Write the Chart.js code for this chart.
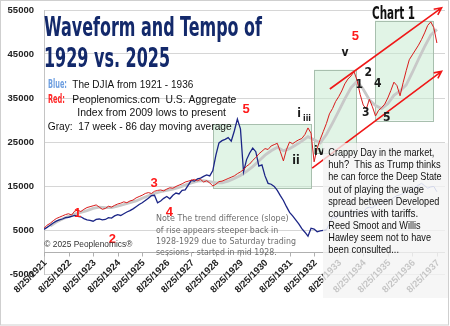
<!DOCTYPE html>
<html><head><meta charset="utf-8">
<script src="https://cdn.jsdelivr.net/npm/chart.js@4.4.1/dist/chart.umd.min.js"></script>
<style>html,body{margin:0;padding:0;background:#fff;}#wrap{width:450px;height:326px;position:relative;}</style>
</head><body><div id="wrap"><canvas id="c" width="450" height="326"></canvas></div>
<script>
// ---- data (years after 8/25/1921 on x; index level on y) ----
const tickYears = [0,1,2,3,4,5,6,7,8,9,10,11,12,13,14,15,16];
const tickLabels = ['8/25/1921','8/25/1922','8/25/1923','8/25/1924','8/25/1925','8/25/1926','8/25/1927','8/25/1928','8/25/1929','8/25/1930','8/25/1931','8/25/1932','8/25/1933','8/25/1934','8/25/1935','8/25/1936','8/25/1937'];
const sampleStep = 0.125;
const redStart = 0;
const redValues = [5400,6100,6500,7100,7600,7900,8200,8500,8700,8400,9300,9500,9200,9700,10100,10300,
10500,10700,10200,9700,9900,10400,10200,10600,10900,11100,11400,11200,11600,11800,12300,12600,
12900,13300,13500,13300,13800,14000,14100,13900,14300,14600,14500,14900,15200,15500,15900,16100,
16300,16500,16200,16500,15900,16200,15700,15000,15400,16000,16100,16400,16700,17000,17300,17800,
18200,18700,19500,20000,20800,21500,22300,22900,23500,23300,24100,24400,24700,22800,20700,23300,
25000,24600,25100,25500,25800,26700,28200,27000,20500,23600,25600,27400,29200,31400,32600,34200,
35300,36600,38200,39300,40000,41000,39000,35800,33400,32500,34700,33000,30900,32200,32800,33600,
35000,36700,38600,37800,35500,38500,41200,43700,44800,45900,47000,48300,49800,51500,52300,51000,47500];
const grayStart = 0.25, grayStep = 0.25;
const grayValues = [5900,6800,7500,8100,8600,9000,9400,9900,10200,10100,10100,10400,10800,11200,11600,12200,
12800,13300,13700,14000,14300,14700,15200,15700,16100,16200,16000,15700,15700,16100,16700,17400,
18300,19400,20700,22000,23000,23800,23000,23500,24300,25200,26200,25500,24800,26700,29300,32000,
34800,37300,38800,37000,34600,33300,32600,33700,35600,36600,38000,40800,43800,46700,49300,50600];
const blueStart = 0;
const blueValues = [5150,5600,6100,6600,7000,7300,7500,7800,7900,8100,8300,8100,8000,7600,7300,7200,
7000,7400,7500,7300,7400,7800,7700,8200,8500,8300,8700,9100,9400,9800,10300,10800,
11200,11700,12200,12800,12900,11200,11600,12200,12600,12100,12900,13400,13200,14000,14100,15200,
16300,16100,16600,16800,17200,17500,17300,18500,22000,24800,25300,25600,26000,25200,27500,30200,
28000,18200,21000,22500,23600,22800,19500,19800,17300,15600,15400,14900,14000,12800,11700,10300,
9000,8200,7300,6400,5300,4500,3600,5400,5200,4600,4800,4900,5000];
const blueFadedStart = 11.5;
const blueFadedValues = [5000,6500,8000,7600,8400,8100,8700,8900,8600,8900,9200,9400,9100,9900,10200,10000,
10700,10900,11100,11500,11300,11900,12400,12800,13000,13300,13700,14000,14100,14700,15200,15600,
15100,14500,14800,14900,13700];
// shaded boxes: [fromYear, toYear, low, high]
const boxes = [[6.89,10.90,14500,29080],[11.00,12.73,22500,41450],[13.48,15.85,29900,52600]];
// channel arrows: [fromYear, fromValue, toYear, toValue]
const channels = [[11.64,37050,16.19,55500],[10.92,19050,16.19,41060]];

function pts(start, step, vals){ return vals.map((v,i)=>({x:start+i*step, y:v})); }

const NARROW = '"Liberation Sans Narrow","DejaVu Sans Condensed","Liberation Sans",sans-serif';
const SANS = '"Liberation Sans",Arial,sans-serif';

function txt(ctx, s, x, y, font, color, w, align, base){
  ctx.save(); ctx.font = font; ctx.fillStyle = color;
  ctx.textAlign = align || 'left'; ctx.textBaseline = base || 'alphabetic';
  const m = ctx.measureText(s).width; const sx = w ? w/m : 1;
  ctx.translate(x, y); ctx.scale(sx, 1); ctx.fillText(s, 0, 0); ctx.restore();
}

const deco = {
  id:'deco',
  beforeDraw(chart){
    const ctx = chart.ctx; ctx.save(); ctx.fillStyle='#fff'; ctx.fillRect(0,0,chart.width,chart.height); ctx.restore();
  },
  beforeDatasetsDraw(chart){
    const ctx = chart.ctx, xs = chart.scales.x, ys = chart.scales.y, ca = chart.chartArea;
    ctx.save();
    boxes.forEach(b=>{
      const x1=xs.getPixelForValue(b[0]), x2=xs.getPixelForValue(b[1]);
      const y1=ys.getPixelForValue(b[3]), y2=ys.getPixelForValue(b[2]);
      ctx.fillStyle='rgba(200,235,210,0.55)'; ctx.fillRect(x1,y1,x2-x1,y2-y1);
      ctx.strokeStyle='#a8bfae'; ctx.lineWidth=1; ctx.strokeRect(Math.round(x1)+0.5,Math.round(y1)+0.5,Math.round(x2-x1),Math.round(y2-y1));
    });
    // zero axis with tick marks
    const y0 = Math.round(ys.getPixelForValue(0))+0.5;
    ctx.strokeStyle='#b0b0b0'; ctx.lineWidth=1;
    ctx.beginPath(); ctx.moveTo(ca.left,y0); ctx.lineTo(ca.right,y0);
    tickYears.forEach(t=>{const x=Math.round(xs.getPixelForValue(t))+0.5; ctx.moveTo(x,y0); ctx.lineTo(x,y0+4);});
    ctx.stroke();
    // category labels hang below the zero axis
    ctx.font='bold 9.5px '+SANS; ctx.fillStyle='#222'; ctx.textAlign='right'; ctx.textBaseline='middle';
    tickYears.forEach((t,i)=>{
      const x=xs.getPixelForValue(t);
      ctx.save(); ctx.translate(x+1.5, y0+9); ctx.rotate(-Math.PI/4); ctx.fillText(tickLabels[i],0,0); ctx.restore();
    });
    ctx.restore();
  },
  afterDatasetsDraw(chart){
    const ctx = chart.ctx, xs = chart.scales.x, ys = chart.scales.y;
    ctx.save();
    ctx.strokeStyle='#f01818'; ctx.lineWidth=1.6;
    channels.forEach(c=>{
      const x1=xs.getPixelForValue(c[0]), y1=ys.getPixelForValue(c[1]);
      const x2=xs.getPixelForValue(c[2]), y2=ys.getPixelForValue(c[3]);
      ctx.beginPath(); ctx.moveTo(x1,y1); ctx.lineTo(x2,y2);
      const a=Math.atan2(y2-y1,x2-x1), L=8;
      ctx.moveTo(x2-L*Math.cos(a-0.45), y2-L*Math.sin(a-0.45)); ctx.lineTo(x2,y2);
      ctx.lineTo(x2-L*Math.cos(a+0.45), y2-L*Math.sin(a+0.45));
      ctx.stroke();
    });
    ctx.restore();
    // titles and legend text
    txt(ctx,'Waveform and Tempo of',44,36,'bold 26px '+NARROW,'#13296b',218);
    txt(ctx,'1929 vs. 2025',44,67,'bold 26px '+NARROW,'#13296b',126);
    txt(ctx,'Chart 1',372,19,'bold 18px '+NARROW,'#111',43);
    txt(ctx,'Blue:',48,88,'bold 13px '+NARROW,'#6d9ee0',19);
    txt(ctx,'The DJIA from 1921 - 1936',72.3,88,'11.5px '+SANS,'#111',121);
    txt(ctx,'Red:',48,102.5,'bold 13px '+NARROW,'#ff2b2b',17);
    txt(ctx,'Peoplenomics.com  U.S. Aggregate',72.3,102.5,'11.5px '+SANS,'#111',164);
    txt(ctx,'Index from 2009 lows to present',77.3,116,'11.5px '+SANS,'#111',148.7);
    txt(ctx,'Gray:  17 week - 86 day moving average',47.7,130,'11.5px '+SANS,'#111',184);
    // red wave labels
    [['5',246,109.3],['5',355.3,36],['3',154,183.3],['1',77.7,213.3],['2',112.3,239.3],['4',169.3,212]]
      .forEach(l=>txt(ctx,l[0],l[1],l[2],'bold 13px '+SANS,'#ff1a1a',null,'center','middle'));
    // black wave labels
    [['v',345,53.3],['2',368.3,72.7],['4',377.7,84.3],['1',359.3,85],['3',365.7,112.7],['5',386.7,118.3],
     ['i',299,114.3],['ii',296,160.7],['iv',319.3,151.7]]
      .forEach(l=>txt(ctx,l[0],l[1],l[2],'bold 12px '+NARROW,'#1a1a1a',null,'center','middle'));
    txt(ctx,'iii',307,118.3,'bold 8.5px '+NARROW,'#1a1a1a',null,'center','middle');
    txt(ctx,'\u00A9 2025 Peoplenomics\u00AE',44.3,246.5,'9.5px '+SANS,'#333',88);
    const note=[['Note The trend difference (slope)',221,132.7],['of rise appears steeper back in',232.5,122.3],
      ['1928-1929 due to Saturday trading',243.5,140],['sessions - started in mid 1928.',254.5,120.7]];
    note.forEach(n=>txt(ctx,n[0],156,n[1],'8px "DejaVu Sans",sans-serif','#6e6e6e',n[2]));
  },
  afterDraw(chart){
    const ctx = chart.ctx;
    ctx.save();
    ctx.fillStyle='rgba(243,243,243,0.78)'; ctx.fillRect(323,143,126,155);
    ctx.restore();
    const lines=[['Crappy Day in the market,',106],['huh?  This as Trump thinks',112.3],['he can force the Deep State',113.3],
      ['out of playing the wage',95.7],['spread between Developed',111],['countries with tariffs.',90],
      ['Reed Smoot and Willis',92.3],['Hawley seem not to have',102.7],['been consulted...',70.7]];
    lines.forEach((l,i)=>txt(ctx,l[0],328.3,156.3+i*12.08,'10.5px '+SANS,'#111',l[1]));
    ctx.save(); ctx.strokeStyle='#cfcfcf'; ctx.lineWidth=1; ctx.strokeRect(0.5,0.5,448,324.5); ctx.restore();
  }
};

new Chart(document.getElementById('c'), {
  type:'line',
  data:{ datasets:[
    {data:pts(redStart,sampleStep,redValues), borderColor:'#d91c1c', borderWidth:1, order:1},
    {data:pts(blueStart,sampleStep,blueValues), borderColor:'#1b2586', borderWidth:1.3, order:2},
    {data:pts(grayStart,grayStep,grayValues), borderColor:'#c8c8c8', borderWidth:2.8, order:3},
    {data:pts(blueFadedStart,sampleStep,blueFadedValues), borderColor:'#5a6fc8', borderWidth:1, order:4}
  ]},
  options:{
    responsive:false, animation:false, devicePixelRatio:1,
    elements:{point:{radius:0}, line:{tension:0}},
    layout:{padding:{top:10,right:5,left:0,bottom:0}},
    plugins:{legend:{display:false}, tooltip:{enabled:false}},
    scales:{
      x:{type:'linear', min:0, max:16.33,
        afterBuildTicks:s=>{s.ticks=tickYears.map(v=>({value:v}));},
        afterFit:s=>{s.height=52; s.paddingLeft=0; s.paddingRight=0;},
        grid:{display:false}, border:{display:false},
        ticks:{display:false}},
      y:{min:-5000, max:55000,
        afterFit:s=>{s.width=44; s.paddingTop=0; s.paddingBottom=0;},
        grid:{color:'#d6d6d6', drawTicks:false}, border:{display:true,color:'#c4c4c4'},
        ticks:{stepSize:10000, padding:10, color:'#222', callback:v=>String(v),
          font:{family:'"Liberation Sans",Arial,sans-serif', size:9.5, weight:'bold'}}}
    }
  },
  plugins:[deco]
});
</script></body></html>
